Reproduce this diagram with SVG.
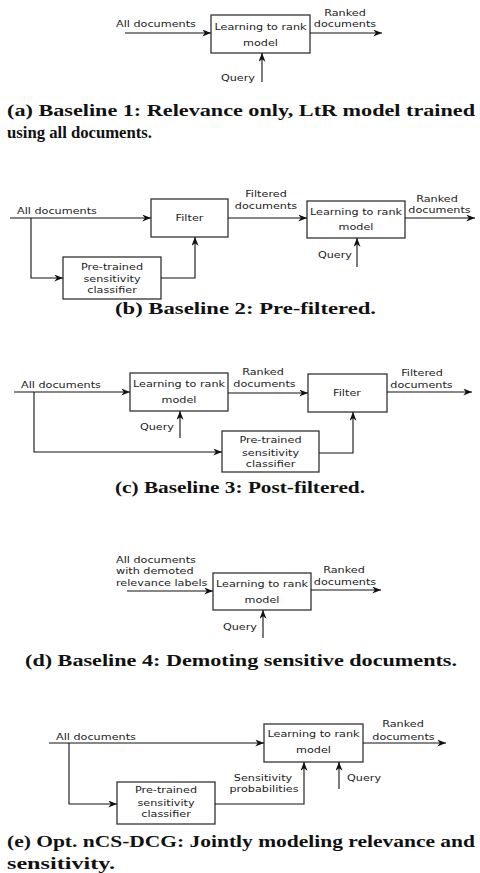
<svg xmlns="http://www.w3.org/2000/svg" width="480" height="873" viewBox="0 0 480 873">
<defs>
<marker id="ah" viewBox="0 0 10 8" markerWidth="10" markerHeight="7" refX="10" refY="4" orient="auto" markerUnits="userSpaceOnUse">
<path d="M0,0 L10,4 L0,8 L3,4 z" fill="#111"/>
</marker>
<style>
.t{font-family:"DejaVu Sans","Liberation Sans",sans-serif;font-size:9.2px;fill:#222}
.m{text-anchor:middle}
.e{text-anchor:end}
.box{fill:#fff;stroke:#333;stroke-width:1.3}
.ln{fill:none;stroke:#111;stroke-width:1.1;marker-end:url(#ah)}
.cap{font-family:"Liberation Serif","Times New Roman",serif;font-weight:bold;font-size:16px;fill:#111}
</style>
</defs>
<rect width="480" height="873" fill="#fff"/>

<!-- Panel (a) -->
<g id="a-ltr">
<rect class="box" x="211" y="15" width="99" height="38"/>
<text class="t m" transform="translate(260.5 30) scale(1.22 1)">Learning to rank</text>
<text class="t m" transform="translate(260.5 46) scale(1.22 1)">model</text>
</g>
<g id="a-connectors">
<path class="ln" d="M125,33 H211"/>
<path class="ln" d="M310,33 H382"/>
<path class="ln" d="M262,82 V53"/>
<text class="t" transform="translate(116 27) scale(1.22 1)">All documents</text>
<text class="t m" transform="translate(345 16) scale(1.22 1)">Ranked</text>
<text class="t m" transform="translate(345 27) scale(1.22 1)">documents</text>
<text class="t e" transform="translate(255 81) scale(1.22 1)">Query</text>
</g>
<g id="a-caption">
<text class="cap" x="7" y="116" textLength="468" lengthAdjust="spacingAndGlyphs">(a) Baseline 1: Relevance only, LtR model trained</text>
<text class="cap" x="7" y="138" textLength="145" lengthAdjust="spacingAndGlyphs">using all documents.</text>
</g>

<!-- Panel (b) -->
<g id="b-filter">
<rect class="box" x="151" y="199" width="77" height="38"/>
<text class="t m" transform="translate(189.5 221) scale(1.22 1)">Filter</text>
</g>
<g id="b-classifier">
<rect class="box" x="63" y="257" width="98" height="42"/>
<text class="t m" transform="translate(112 270) scale(1.22 1)">Pre-trained</text>
<text class="t m" transform="translate(112 282) scale(1.22 1)">sensitivity</text>
<text class="t m" transform="translate(112 293) scale(1.22 1)">classifier</text>
</g>
<g id="b-ltr">
<rect class="box" x="307" y="201" width="98" height="37"/>
<text class="t m" transform="translate(356 215) scale(1.22 1)">Learning to rank</text>
<text class="t m" transform="translate(356 230) scale(1.22 1)">model</text>
</g>
<g id="b-connectors">
<path class="ln" d="M10,218 H151"/>
<path class="ln" d="M31,218 V278 H63"/>
<path class="ln" d="M161,278 H195 V237"/>
<path class="ln" d="M228,218 H307"/>
<path class="ln" d="M405,218 H475"/>
<path class="ln" d="M357,267 V238"/>
<text class="t" transform="translate(17 214) scale(1.22 1)">All documents</text>
<text class="t m" transform="translate(266 197) scale(1.22 1)">Filtered</text>
<text class="t m" transform="translate(266 209) scale(1.22 1)">documents</text>
<text class="t m" transform="translate(437 202) scale(1.22 1)">Ranked</text>
<text class="t m" transform="translate(439.5 213) scale(1.22 1)">documents</text>
<text class="t e" transform="translate(352 258) scale(1.22 1)">Query</text>
</g>
<g id="b-caption">
<text class="cap" x="115" y="314" textLength="261" lengthAdjust="spacingAndGlyphs">(b) Baseline 2: Pre-filtered.</text>
</g>

<!-- Panel (c) -->
<g id="c-ltr">
<rect class="box" x="130" y="373" width="98" height="38"/>
<text class="t m" transform="translate(179 387) scale(1.22 1)">Learning to rank</text>
<text class="t m" transform="translate(179 403) scale(1.22 1)">model</text>
</g>
<g id="c-filter">
<rect class="box" x="308" y="374" width="79" height="38"/>
<text class="t m" transform="translate(347 396) scale(1.22 1)">Filter</text>
</g>
<g id="c-classifier">
<rect class="box" x="222" y="431" width="97" height="41"/>
<text class="t m" transform="translate(270.5 443) scale(1.22 1)">Pre-trained</text>
<text class="t m" transform="translate(270.5 456) scale(1.22 1)">sensitivity</text>
<text class="t m" transform="translate(270.5 467) scale(1.22 1)">classifier</text>
</g>
<g id="c-connectors">
<path class="ln" d="M14,392 H130"/>
<path class="ln" d="M34,392 V452 H222"/>
<path class="ln" d="M228,393 H308"/>
<path class="ln" d="M387,392 H472"/>
<path class="ln" d="M319,453 H353 V412"/>
<path class="ln" d="M180,438 V411"/>
<text class="t" transform="translate(21 388) scale(1.22 1)">All documents</text>
<text class="t m" transform="translate(263 375) scale(1.22 1)">Ranked</text>
<text class="t m" transform="translate(264.5 387) scale(1.22 1)">documents</text>
<text class="t m" transform="translate(422 376) scale(1.22 1)">Filtered</text>
<text class="t m" transform="translate(421.5 388) scale(1.22 1)">documents</text>
<text class="t e" transform="translate(174 430) scale(1.22 1)">Query</text>
</g>
<g id="c-caption">
<text class="cap" x="115" y="493" textLength="250" lengthAdjust="spacingAndGlyphs">(c) Baseline 3: Post-filtered.</text>
</g>

<!-- Panel (d) -->
<g id="d-ltr">
<rect class="box" x="213" y="573" width="98" height="37"/>
<text class="t m" transform="translate(262 587) scale(1.22 1)">Learning to rank</text>
<text class="t m" transform="translate(262 603) scale(1.22 1)">model</text>
</g>
<g id="d-connectors">
<path class="ln" d="M127,591 H213"/>
<path class="ln" d="M311,590 H381"/>
<path class="ln" d="M263,638 V610"/>
<text class="t" transform="translate(116 563) scale(1.22 1)">All documents</text>
<text class="t" transform="translate(116 574) scale(1.22 1)">with demoted</text>
<text class="t" transform="translate(116 586) scale(1.22 1)">relevance labels</text>
<text class="t m" transform="translate(344 573) scale(1.22 1)">Ranked</text>
<text class="t m" transform="translate(345 585) scale(1.22 1)">documents</text>
<text class="t e" transform="translate(257 630) scale(1.22 1)">Query</text>
</g>
<g id="d-caption">
<text class="cap" x="25" y="666" textLength="432" lengthAdjust="spacingAndGlyphs">(d) Baseline 4: Demoting sensitive documents.</text>
</g>

<!-- Panel (e) -->
<g id="e-ltr">
<rect class="box" x="264" y="724" width="99" height="38"/>
<text class="t m" transform="translate(313.5 737) scale(1.22 1)">Learning to rank</text>
<text class="t m" transform="translate(313.5 753) scale(1.22 1)">model</text>
</g>
<g id="e-classifier">
<rect class="box" x="117" y="782" width="98" height="42"/>
<text class="t m" transform="translate(166 793) scale(1.22 1)">Pre-trained</text>
<text class="t m" transform="translate(166 806) scale(1.22 1)">sensitivity</text>
<text class="t m" transform="translate(166 817) scale(1.22 1)">classifier</text>
</g>
<g id="e-connectors">
<path class="ln" d="M49,743 H264"/>
<path class="ln" d="M69,743 V804 H117"/>
<path class="ln" d="M215,804 H304 V762"/>
<path class="ln" d="M339,789 V762"/>
<path class="ln" d="M363,743 H446"/>
<text class="t" transform="translate(56 740) scale(1.22 1)">All documents</text>
<text class="t m" transform="translate(263 781) scale(1.22 1)">Sensitivity</text>
<text class="t m" transform="translate(264 792) scale(1.22 1)">probabilities</text>
<text class="t" transform="translate(347 781) scale(1.22 1)">Query</text>
<text class="t m" transform="translate(403 727) scale(1.22 1)">Ranked</text>
<text class="t m" transform="translate(403.5 740) scale(1.22 1)">documents</text>
</g>
<g id="e-caption">
<text class="cap" x="7" y="847" textLength="468" lengthAdjust="spacingAndGlyphs">(e) Opt. nCS-DCG: Jointly modeling relevance and</text>
<text class="cap" x="7" y="869" textLength="108" lengthAdjust="spacingAndGlyphs">sensitivity.</text>
</g>
</svg>
